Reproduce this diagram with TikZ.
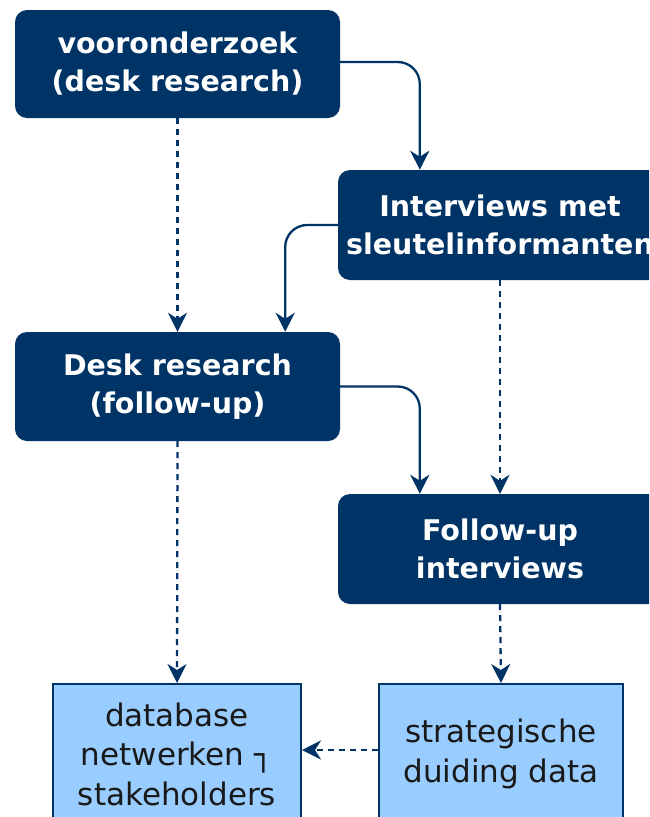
\documentclass[tikz,border=0pt]{standalone}
\usepackage{fontspec}
\setmainfont{DejaVu Sans}
\usetikzlibrary{arrows.meta,calc}
\definecolor{navy}{RGB}{0,51,102}
\definecolor{lightbox}{RGB}{153,204,255}
\definecolor{boxtext}{RGB}{25,25,25}
\tikzset{
  darkbox/.style={draw=none, fill=navy, rounded corners=12pt, text=white,
    font=\fontsize{28.5}{38}\selectfont\bfseries, align=center, inner sep=0pt},
  lightnode/.style={draw=navy, line width=2pt, fill=lightbox, text=boxtext,
    font=\fontsize{31}{39.5}\selectfont, align=center, inner sep=0pt},
  arr/.style={draw=navy, line width=2.3pt, -{Stealth[length=19pt,width=19pt,inset=6pt]}},
  dasharr/.style={arr, dash pattern=on 6pt off 5pt},
}
\begin{document}
\begin{tikzpicture}[x=1pt,y=-1pt]
\useasboundingbox (0,0) rectangle (649,817);
\clip (0,0) rectangle (649,817);
\node[darkbox, minimum width=325pt, minimum height=108pt] (b1) at (177.5,64) {vooronderzoek\\(desk research)};
\node[darkbox, minimum width=324pt, minimum height=110pt] (b2) at (500,225) {Interviews met\\sleutelinformanten};
\node[darkbox, minimum width=325pt, minimum height=109pt] (b3) at (177.5,386.5) {Desk research\\(follow-up)};
\node[darkbox, minimum width=324pt, minimum height=110pt] (b4) at (500,549) {Follow-up\\interviews};
\node[lightnode, minimum width=248pt, minimum height=140pt] (b5) at (177,754) {database\\netwerken ┐\\stakeholders};
\node[lightnode, minimum width=244pt, minimum height=140pt] (b6) at (501,754) {strategische\\duiding data};

\draw[dasharr] (b1.south) -- (b3.north);
\draw[arr, rounded corners=22pt] ([yshift=2pt]b1.east) -| ([xshift=82pt]b2.north west);
\draw[arr, rounded corners=22pt] (b2.west) -| ([xshift=-55pt]b3.north east);
\draw[dasharr] (b2.south) -- (b4.north);
\draw[arr, rounded corners=22pt] (b3.east) -| ([xshift=82pt]b4.north west);
\draw[dasharr] (b3.south) -- (b5.north);
\draw[dasharr] (b4.south) -- (b6.north);
\draw[dasharr] ([yshift=4pt]b6.west) -- ([yshift=4pt]b5.east);
\end{tikzpicture}
\end{document}
